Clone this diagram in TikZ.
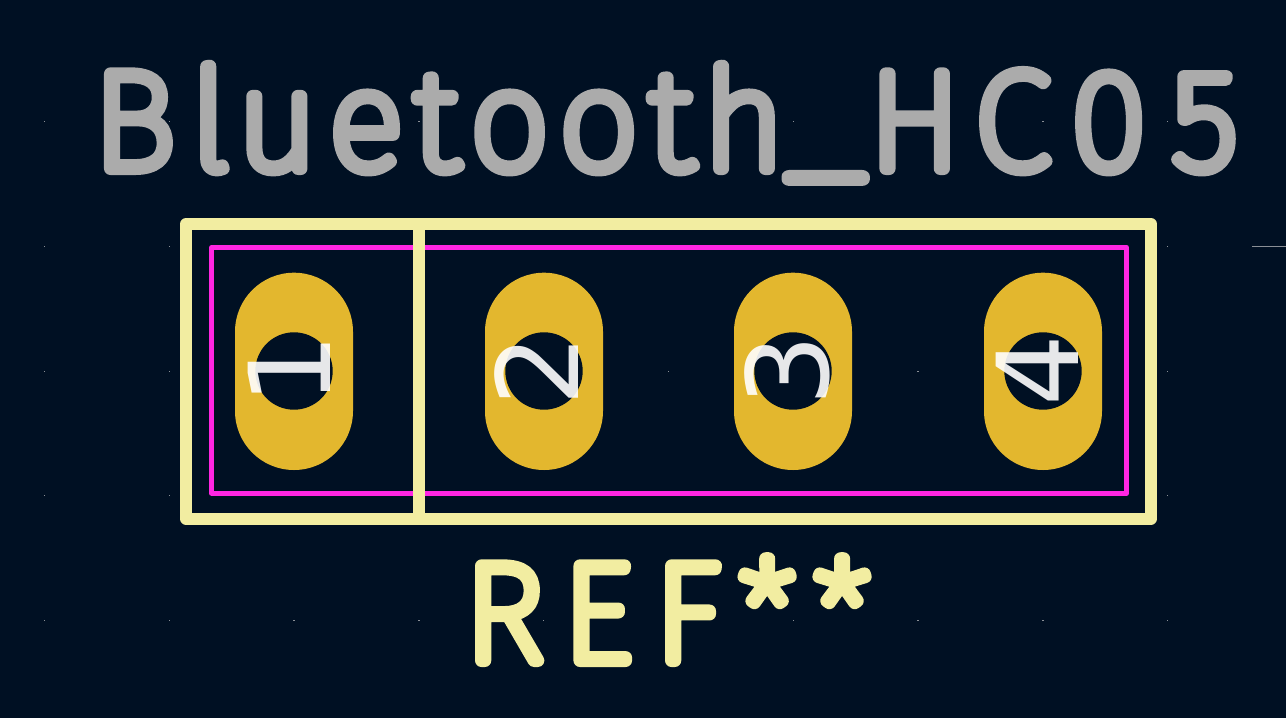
\documentclass[tikz,border=0pt]{standalone}
\usepackage{fontspec}
\setmainfont{Liberation Sans}
\newfontfamily\strokefont{Fira Sans Thin}
\newfontfamily\padfont{DejaVu Sans}
\definecolor{boardbg}{HTML}{001023}
\definecolor{silk}{HTML}{F2EDA1}
\definecolor{fabgrey}{HTML}{ABABAB}
\definecolor{crtyd}{HTML}{FF26E2}
\definecolor{padgold}{HTML}{E3B72E}
\definecolor{griddot}{HTML}{8A8F96}
\newcommand\strokeon[1]{\special{pdf:code 1 j 1 J 2 Tr #1 w}}
\newcommand\strokeoff{\special{pdf:code 0 Tr 0 J 0 j 1 w}}
\newcommand\gl[2]{\hbox to 0pt{\hss #2\hss}\kern#1pt\relax}
\tikzset{
  x=1pt,y=-1pt,
  silkline/.style={draw=silk,line width=12pt,line join=round},
  fabline/.style={draw=crtyd,line width=4.8pt,line join=round},
  padshape/.style={fill=padgold,rounded corners=59pt},
  holeshape/.style={fill=boardbg},
  gridmark/.style={fill=griddot},
  title/.style={inner sep=0pt,anchor=base west,text=fabgrey,font=\strokefont\fontsize{139}{139}\selectfont},
  refd/.style={inner sep=0pt,anchor=base west,text=silk,font=\strokefont\fontsize{139}{139}\selectfont},
  padnum/.style={inner sep=0pt,rotate=90,anchor=center,text=white,text opacity=0.9,font=\padfont\fontsize{113}{113}\selectfont},
}
\begin{document}
\begin{tikzpicture}
\useasboundingbox (0,0) rectangle (1286,718);
\fill[boardbg] (0,0) rectangle (1286,718);
% grid marks
\foreach \gy in {121,246,371,495.3,620}
  \foreach \gx in {44.5,169.3,294,418.8,543.6,668.4,793.2,918,1042.8,1167.6}
    \fill[gridmark] (\gx-.7,\gy-.5) rectangle (\gx+.7,\gy+.5);
\draw[griddot,line width=1pt] (1252,246.3) -- (1286,246.3);
% courtyard
\draw[fabline] (211.7,247.3) rectangle (1126.5,493.3);
% silk outline
\draw[silkline] (186,224) rectangle (1151,518.5);
\draw[draw=silk,line width=12pt] (419,224) -- (419,518.5);
% pads
\foreach \px in {294,544,793,1043}{
  \fill[padshape] (\px-59,272.7) rectangle (\px+59,470);
  \fill[holeshape] (\px,371) circle (38.7);
}
% texts
\node[title] (titletext) at (134,168.5) {\strokeon{13}\gl{76}{B}\gl{67}{l}\gl{89}{u}\gl{70}{e}\gl{73.5}{t}\gl{89}{o}\gl{72.5}{o}\gl{72.5}{t}\gl{82}{h}\gl{89}{\raisebox{3pt}{\scalebox{1.2}[1]{\_}}}\gl{97.5}{H}\gl{96.5}{C}\gl{96}{0}\gl{0}{5}\strokeoff};
\node[refd] (reftext) at (504,660.5) {\strokeon{13}\gl{93}{R}\gl{90}{E}\gl{80}{F}\gl{75}{*}\gl{0}{*}\strokeoff};
\node[padnum] (padone) at (289,369.5) {1};
\node[padnum] (padtwo) at (537,371) {2};
\node[padnum] (padthree) at (787.5,370.5) {3};
\node[padnum] (padfour) at (1037,371) {4};
\end{tikzpicture}
\end{document}
